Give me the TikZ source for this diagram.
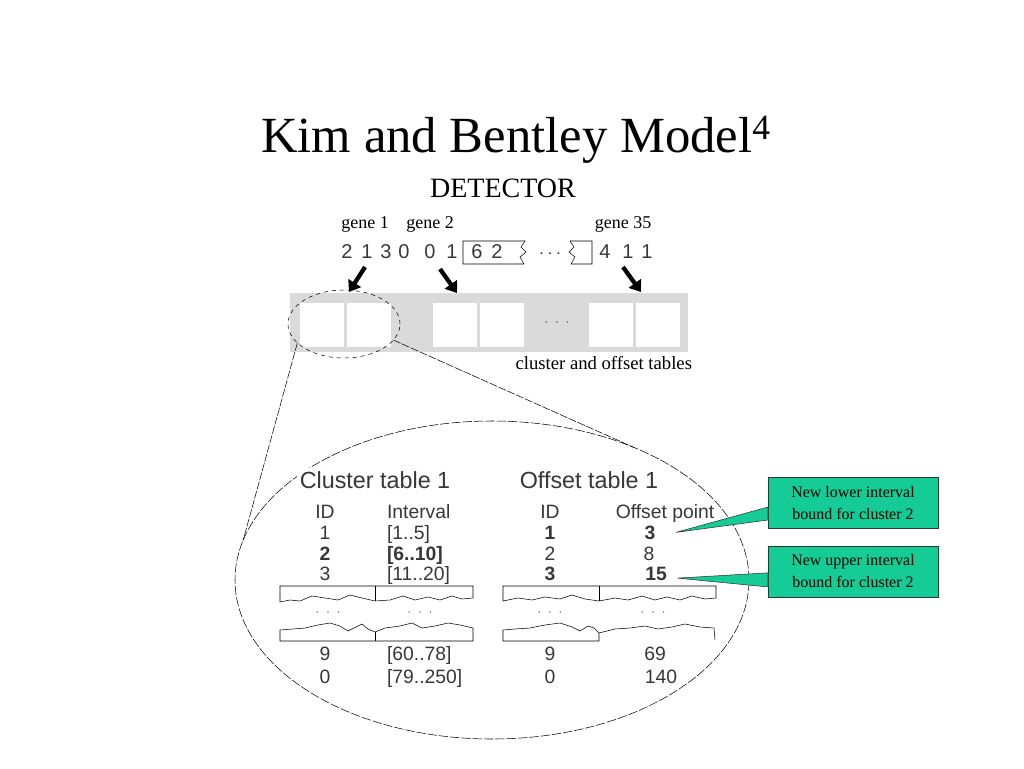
\documentclass[tikz,border=0pt]{standalone}
\usepackage{fontspec}
\setmainfont{Liberation Serif}
\setsansfont{Liberation Sans}
\usetikzlibrary{arrows.meta,shapes.geometric,positioning}
\definecolor{barGray}{RGB}{218,218,218}
\definecolor{noteGreen}{RGB}{22,204,150}
\definecolor{scanText}{RGB}{55,55,55}

\begin{document}
\begin{tikzpicture}[x=0.75pt, y=-0.75pt,
every node/.style = {inner sep=0pt, outer sep=0pt},
genelabel/.style = {anchor=base, font=\fontsize{13.5}{15}\selectfont},
digit/.style = {anchor=base, text=scanText, font=\sffamily\fontsize{15}{16}\selectfont},
slot/.style = {fill=white, minimum width=33pt, minimum height=33pt},
genearrow/.style = {line width=3.2pt, -{Triangle[length=8pt,width=11pt]}},
zoomline/.style = {thin, dash pattern=on 6pt off 1.2pt},
tabtitle/.style = {anchor=base, fill=white, inner sep=2pt, text=scanText,
	font=\sffamily\fontsize{17.5}{19}\selectfont},
tabcell/.style = {anchor=base, text=scanText, font=\sffamily\fontsize{14.5}{16}\selectfont},
tabgap/.style = {text=gray, font=\fontsize{12}{12}\selectfont},
newbound/.style = {draw=black!80, fill=noteGreen, align=center, minimum width=127.5pt,
	minimum height=38pt, font=\fontsize{12}{16.5}\selectfont},
wedge/.style = {draw=black!80, fill=noteGreen, thin}]
\useasboundingbox (0,0) rectangle (1024,768);

% title and detector
\node[anchor=base, font=\fontsize{38}{44}\selectfont] (title) at (516,152) {Kim and Bentley Model\textsuperscript{4}};
\node[anchor=base, font=\fontsize{21}{24}\selectfont] (detector) at (503,197) {DETECTOR};
\node[genelabel] (gene1) at (365,228) {gene 1};
\node[genelabel] (gene2) at (430,228) {gene 2};
\node[genelabel] (gene35) at (623,228) {gene 35};

% genome
\foreach \x/\d [count=\i] in {347/2,367/1,386/3,404/0,430/0,452/1,477/6,497/2,605/4,628/1,647/1}
	\node[digit] (d\i) at (\x,258) {\d};
\node[digit] (gdots) at (550,258) {$\cdots$};
\draw[thin] (463,241) -- (525,241) -- (521,247) -- (526,252) -- (520,257) -- (524,264) -- (463,264) -- cycle;
\draw[thin] (592,241) -- (570,241) -- (574,247) -- (569,252) -- (575,257) -- (571,264) -- (592,264) -- cycle;

% cluster and offset tables
\node[fill=barGray, minimum width=298.5pt, minimum height=44.25pt] (bar) at (489,322.5) {};
\foreach \x [count=\i] in {322,369,455,502,611,658}
	\node[slot] (s\i) at (\x,325) {};
\node[tabgap, text=black!60] (bardots) at (557,323) {$\cdot\,\cdot\,\cdot$};
\node[anchor=base east, font=\fontsize{14}{16}\selectfont] (barlabel) at (692,369) {cluster and offset tables};

\coordinate (a1) at (365,267); \coordinate (a1e) at (349,292);
\coordinate (a2) at (440,269); \coordinate (a2e) at (457,293);
\coordinate (a3) at (623,267); \coordinate (a3e) at (641,292);
\draw[genearrow] (a1) -- (a1e);
\draw[genearrow] (a2) -- (a2e);
\draw[genearrow] (a3) -- (a3e);

% zoom
\node[draw, dashed, thin, ellipse, minimum width=84pt, minimum height=51pt] (zoomell) at (344,324) {};
\node[draw, thin, ellipse, dash pattern=on 7pt off 1.5pt, minimum width=385.5pt, minimum height=238.5pt] (bigell) at (492,580) {};
\draw[zoomline] (zoomell.202) -- (bigell.171);
\draw[zoomline] (zoomell.342) -- (bigell.43);

% cluster table
\node[tabtitle] (ctab) at (375,488) {Cluster table 1};
\node[tabcell] (cid) at (325,518) {ID};
\node[tabcell, anchor=base west] (civ) at (387,518) {Interval};
\foreach \id/\iv/\y [count=\i] in {1/{[1..5]}/539, {\bfseries 2}/{\bfseries [6..10]}/560, 3/{[11..20]}/580, 9/{[60..78]}/660, 0/{[79..250]}/683} {
	\node[tabcell] (cid\i) at (325,\y) {\id};
	\node[tabcell, anchor=base west] (civ\i) at (387,\y) {\iv};
}
\draw[thin] (280,602) -- (280,586) -- (473,586) -- (473,598) -- (462,599) -- (452,596) -- (440,600) -- (428,597) -- (415,600) -- (403,596) -- (390,600) -- (375,601) -- (362,598) -- (350,595) -- (338,600) -- (325,598) -- (312,596) -- (300,601) -- (290,600) -- cycle;
\draw[thin] (375,586) -- (375,601);
\draw[thin] (280,641) -- (280,630) -- (293,629) -- (305,628) -- (318,625) -- (330,623) -- (340,626) -- (348,631) -- (356,627) -- (362,624) -- (368,629) -- (375,632) -- (385,628) -- (400,626) -- (412,623) -- (422,628) -- (435,626) -- (448,623) -- (460,625) -- (473,628) -- (473,641) -- cycle;
\draw[thin] (375,632) -- (375,641);
\node[tabgap] (cdots1) at (328,613) {$\cdot\,\cdot\,\cdot$};
\node[tabgap] (cdots2) at (420,613) {$\cdot\,\cdot\,\cdot$};

% offset table
\node[tabtitle] (otab) at (589,488) {Offset table 1};
\node[tabcell] (oid) at (550,518) {ID};
\node[tabcell] (opt) at (665,518) {Offset point};
\foreach \id/\pt/\px/\y [count=\i] in {{\bfseries 1}/{\bfseries 3}/650/539, 2/8/649/560, {\bfseries 3}/{\bfseries 15}/656/580, 9/69/655/660, 0/140/661/683} {
	\node[tabcell] (oid\i) at (550,\y) {\id};
	\node[tabcell] (opt\i) at (\px,\y) {\pt};
}
\draw[thin] (503,601) -- (503,586) -- (716,586) -- (716,598) -- (705,599) -- (692,596) -- (680,600) -- (667,597) -- (655,600) -- (642,596) -- (628,600) -- (615,598) -- (599,601) -- (585,599) -- (572,595) -- (560,599) -- (545,597) -- (532,600) -- (518,598) -- cycle;
\draw[thin] (599,586) -- (599,601);
\draw[thin] (503,641) -- (503,630) -- (515,629) -- (530,628) -- (545,625) -- (560,623) -- (572,627) -- (580,631) -- (588,626) -- (594,628) -- (599,633) -- (599,641) -- cycle;
\draw[thin] (599,633) -- (615,629) -- (630,628) -- (645,626) -- (658,629) -- (672,627) -- (685,624) -- (700,627) -- (714,628) -- (715,640);
\node[tabgap] (odots1) at (550,613) {$\cdot\,\cdot\,\cdot$};
\node[tabgap] (odots2) at (653,613) {$\cdot\,\cdot\,\cdot$};

% notes
\node[newbound] (lowbox) at (853,503) {New lower interval\\bound for cluster 2};
\node[newbound] (upbox) at (853,571.5) {New upper interval\\bound for cluster 2};
\filldraw[wedge] ([xshift=15.5pt]opt1.east) -- ([yshift=-3pt]lowbox.west) -- ([yshift=-12.75pt]lowbox.west) -- cycle;
\filldraw[wedge] ([xshift=8pt,yshift=-3.5pt]opt3.east) -- ([yshift=-1pt]upbox.west) -- ([yshift=-11.6pt]upbox.west) -- cycle;
\draw[draw=black!80, thin] (lowbox.north west) rectangle (lowbox.south east);
\draw[draw=black!80, thin] (upbox.north west) rectangle (upbox.south east);
\end{tikzpicture}
\end{document}
